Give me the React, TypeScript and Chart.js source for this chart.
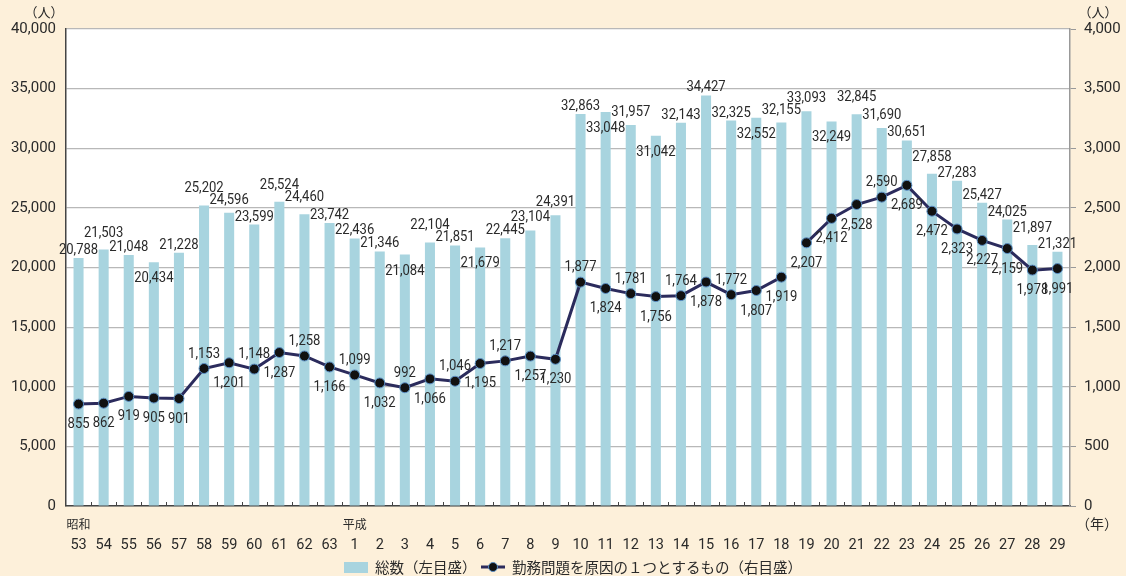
import React, { useEffect, useRef } from "react";
import { Chart, registerables } from "chart.js";

Chart.register(...registerables);

const categories = [
  "53", "54", "55", "56", "57", "58", "59", "60", "61", "62", "63",
  "1", "2", "3", "4", "5", "6", "7", "8", "9", "10", "11", "12", "13", "14",
  "15", "16", "17", "18", "19", "20", "21", "22", "23", "24", "25", "26", "27", "28", "29",
];

const eraLabels: { index: number; text: string }[] = [
  { index: 0, text: "昭和" },
  { index: 11, text: "平成" },
];

const totalValues = [
  20788, 21503, 21048, 20434, 21228, 25202, 24596, 23599, 25524, 24460, 23742,
  22436, 21346, 21084, 22104, 21851, 21679, 22445, 23104, 24391, 32863, 33048,
  31957, 31042, 32143, 34427, 32325, 32552, 32155, 33093, 32249, 32845, 31690,
  30651, 27858, 27283, 25427, 24025, 21897, 21321,
];

const workValues = [
  855, 862, 919, 905, 901, 1153, 1201, 1148, 1287, 1258, 1166,
  1099, 1032, 992, 1066, 1046, 1195, 1217, 1257, 1230, 1877, 1824,
  1781, 1756, 1764, 1878, 1772, 1807, 1919, 2207, 2412, 2528, 2590,
  2689, 2472, 2323, 2227, 2159, 1978, 1991,
];

// label placement: "a" = just above, "m" = higher, "h" = highest, "b" = below
const barLabelPlace = [
  "a", "h", "a", "b", "a", "h", "m", "a", "h", "h", "a",
  "a", "a", "b", "h", "a", "b", "a", "m", "m", "a", "b",
  "m", "b", "a", "a", "a", "b", "m", "m", "b", "h", "m",
  "a", "h", "a", "a", "a", "h", "a",
];
const lineLabelPlace = [
  "b", "b", "b", "b", "b", "a", "b", "a", "b", "a", "b",
  "a", "b", "a", "b", "a", "b", "a", "b", "b", "a", "b",
  "a", "b", "a", "b", "a", "b", "b", "b", "b", "b", "a",
  "b", "b", "b", "b", "b", "b", "b",
];

// index after which the line is interrupted
const lineBreakAfter = 28;

const leftUnit = "（人）";
const rightUnit = "（人）";
const xUnit = "（年）";
const legendBar = "総数（左目盛）";
const legendLine = "勤務問題を原因の１つとするもの（右目盛）";

const BG = "#fdf0da";
const BAR = "#a8d4df";
const LINE = "#2b2b5c";
const TEXT = "#2a2a2a";
const NUM_FONT = "Roboto, 'Noto Sans', sans-serif";
const JP_FONT = "'Noto Sans CJK JP', 'Noto Sans', sans-serif";

const fmt = (v: number) => v.toLocaleString("en-US");

function narrowText(ctx: CanvasRenderingContext2D, s: string, x: number, y: number, k: number) {
  ctx.save();
  ctx.translate(x, y);
  ctx.scale(k, 1);
  ctx.fillText(s, 0, 0);
  ctx.restore();
}

const barShift: Record<string, number> = { a: -4, m: -9, h: -13, b: 20 };
const lineShift: Record<string, number> = { a: -11, b: 24 };

export default function App() {
  const ref = useRef<HTMLCanvasElement>(null);

  useEffect(() => {
    document.body.style.margin = "0";
    const canvas = ref.current!;
    const drawPlugin = {
      id: "customDraw",
      beforeDraw(chart: any) {
        const { ctx, chartArea: a } = chart;
        ctx.save();
        ctx.fillStyle = BG;
        ctx.fillRect(0, 0, chart.width, chart.height);
        ctx.fillStyle = "#ffffff";
        ctx.fillRect(a.left, a.top, a.right - a.left, a.bottom - a.top);
        ctx.restore();
      },
      afterDatasetsDraw(chart: any) {
        const { ctx, chartArea: a } = chart;
        const xs = chart.scales.x;
        const yl = chart.scales.y;
        const yr = chart.scales.y1;
        ctx.save();
        // inner tick marks on x axis
        const n = categories.length;
        const w = (a.right - a.left) / n;
        ctx.strokeStyle = "#444";
        ctx.lineWidth = 1;
        for (let i = 1; i < n; i++) {
          const x = Math.round(a.left + i * w) + 0.5;
          ctx.beginPath();
          ctx.moveTo(x, a.bottom);
          ctx.lineTo(x, a.bottom - 4);
          ctx.stroke();
        }
        // bar labels
        ctx.font = `15px ${NUM_FONT}`;
        ctx.fillStyle = TEXT;
        ctx.textAlign = "center";
        ctx.textBaseline = "alphabetic";
        const K = 0.87;
        totalValues.forEach((v, i) => {
          const x = xs.getPixelForValue(i);
          const y = yl.getPixelForValue(v);
          narrowText(ctx, fmt(v), x, y + barShift[barLabelPlace[i]], K);
        });
        // line labels
        workValues.forEach((v, i) => {
          const x = xs.getPixelForValue(i);
          const y = yr.getPixelForValue(v);
          narrowText(ctx, fmt(v), x, y + lineShift[lineLabelPlace[i]], K);
        });
        // era labels
        ctx.font = `12px ${JP_FONT}`;
        ctx.textBaseline = "middle";
        eraLabels.forEach((e) => {
          ctx.fillText(e.text, xs.getPixelForValue(e.index), a.bottom + 18);
        });
        // units
        ctx.font = `13px ${JP_FONT}`;
        ctx.fillText(leftUnit, 44, 12);
        ctx.fillText(rightUnit, 1098, 12);
        ctx.font = `14px ${JP_FONT}`;
        ctx.fillText(xUnit, 1097, a.bottom + 18);
        // legend
        const ly = 567;
        ctx.fillStyle = BAR;
        ctx.fillRect(344, ly - 5, 24, 11);
        ctx.fillStyle = TEXT;
        ctx.font = `14.5px ${JP_FONT}`;
        ctx.textAlign = "left";
        ctx.fillText(legendBar, 375, ly);
        ctx.strokeStyle = LINE;
        ctx.lineWidth = 3;
        ctx.beginPath();
        ctx.moveTo(481, ly);
        ctx.lineTo(505, ly);
        ctx.stroke();
        ctx.beginPath();
        ctx.arc(493, ly, 4.5, 0, Math.PI * 2);
        ctx.fillStyle = "#111";
        ctx.fill();
        ctx.lineWidth = 1;
        ctx.strokeStyle = "#5b8fc5";
        ctx.stroke();
        ctx.fillStyle = TEXT;
        ctx.fillText(legendLine, 512, ly);
        ctx.restore();
      },
    };

    const chart = new Chart(canvas, {
      type: "bar",
      data: {
        labels: categories,
        datasets: [
          {
            type: "line",
            label: legendLine,
            data: workValues,
            yAxisID: "y1",
            borderColor: LINE,
            borderWidth: 3,
            pointRadius: 5,
            pointBackgroundColor: "#111",
            pointBorderColor: "#5b8fc5",
            pointBorderWidth: 1,
            tension: 0,
            order: 0,
            segment: {
              borderColor: (c: any) =>
                c.p0DataIndex === lineBreakAfter ? "rgba(0,0,0,0)" : LINE,
            },
          } as any,
          {
            type: "bar",
            label: legendBar,
            data: totalValues,
            yAxisID: "y",
            backgroundColor: BAR,
            barPercentage: 0.4,
            categoryPercentage: 1,
            order: 1,
          },
        ],
      },
      options: {
        responsive: false,
        animation: false,
        devicePixelRatio: 1,
        layout: { padding: { top: 29, left: 0, right: 0, bottom: 0 } },
        plugins: {
          legend: { display: false },
          tooltip: { enabled: false },
        },
        scales: {
          x: {
            offset: true,
            grid: { display: false },
            border: { display: true, color: "#444", width: 1.5 },
            ticks: {
              autoSkip: false,
              maxRotation: 0,
              padding: 23,
              color: TEXT,
              font: { family: NUM_FONT, size: 14.5 },
            },
            afterFit: (s: any) => {
              s.height = 70;
            },
          },
          y: {
            position: "left",
            min: 0,
            max: 40000,
            ticks: {
              stepSize: 5000,
              padding: 10,
              color: TEXT,
              font: { family: NUM_FONT, size: 15 },
              callback: (v: any) => fmt(Number(v)),
            },
            grid: { color: "#b8b8b8", lineWidth: 1.2, drawTicks: false },
            border: { display: true, color: "#444", width: 1.5 },
            afterFit: (s: any) => {
              s.width = 66;
            },
          },
          y1: {
            position: "right",
            min: 0,
            max: 4000,
            ticks: {
              stepSize: 500,
              padding: 8,
              color: TEXT,
              font: { family: NUM_FONT, size: 15 },
              callback: (v: any) => fmt(Number(v)),
            },
            grid: {
              drawOnChartArea: false,
              drawTicks: true,
              tickLength: 6,
              color: "#999",
            },
            border: { display: true, color: "#999", width: 1.5 },
            afterFit: (s: any) => {
              s.width = 56;
            },
          },
        },
      },
      plugins: [drawPlugin],
    });
    return () => chart.destroy();
  }, []);

  return (
    <div style={{ width: 1126, height: 576, background: BG }}>
      <canvas ref={ref} width={1126} height={576} />
    </div>
  );
}
